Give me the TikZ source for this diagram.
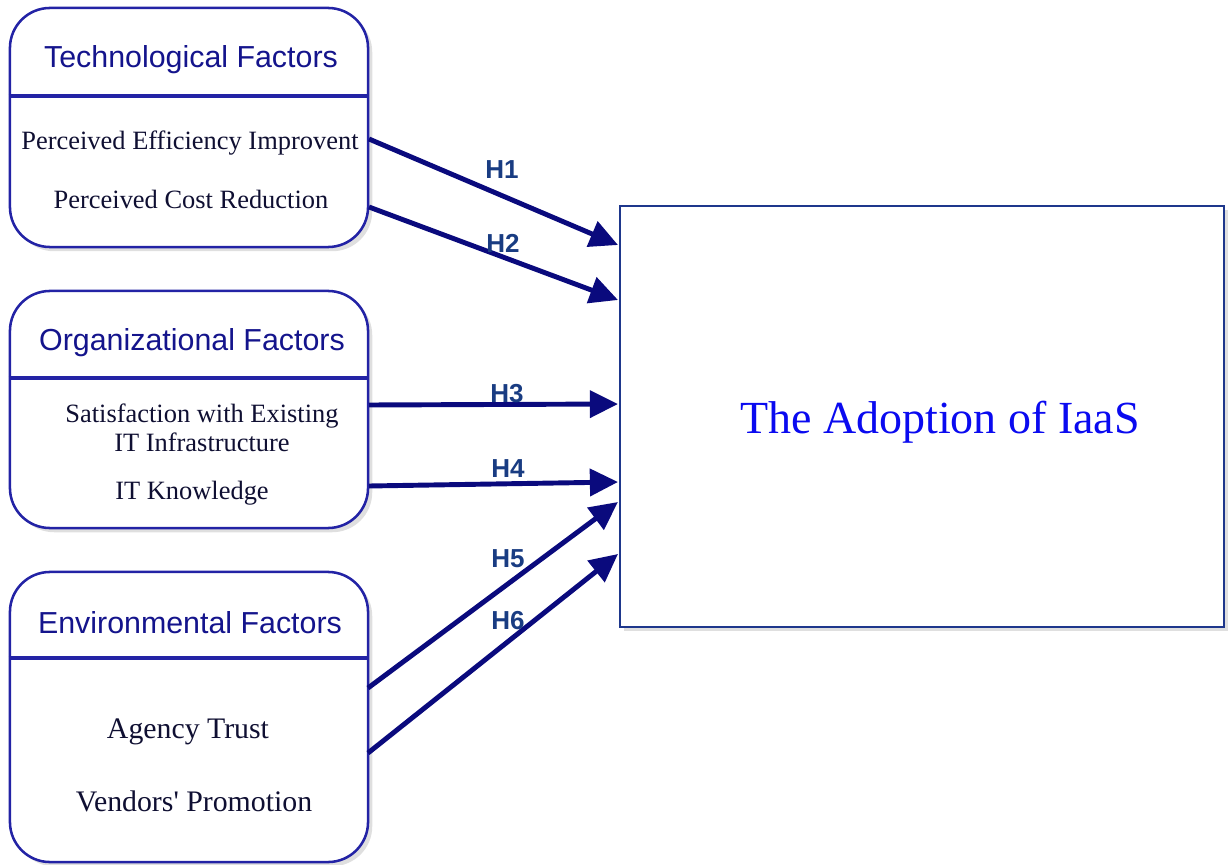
\documentclass[tikz,border=0pt]{standalone}
\usepackage{fontspec}
\setmainfont{Liberation Serif}
\newfontfamily\headfont{Liberation Sans}
\usetikzlibrary{arrows.meta,shadows}

\definecolor{framecol}{RGB}{35,35,165}
\definecolor{headcol}{RGB}{20,20,140}
\definecolor{arrowcol}{RGB}{10,10,125}
\definecolor{hypcol}{RGB}{25,60,130}
\definecolor{itemcol}{RGB}{15,15,50}
\definecolor{adoptcol}{RGB}{10,10,240}
\definecolor{adoptframe}{RGB}{30,55,140}

% straight apostrophe, kept out of the TeX ligature mapping
\newcommand{\straightquote}{\XeTeXglyph\XeTeXcharglyph"0027\relax}

\tikzset{
  factor/.style={draw=framecol, line width=1.8pt, rounded corners=1cm, fill=white,
    drop shadow={opacity=0.25, shadow xshift=3pt, shadow yshift=-3pt}},
  divider/.style={draw=framecol, line width=3.5pt},
  head/.style={font=\headfont\fontsize{21.6}{25}\selectfont, text=headcol},
  item/.style={font=\fontsize{18.8}{20.6}\selectfont, text=itemcol, align=center},
  bigitem/.style={item, font=\fontsize{21.2}{24}\selectfont},
  hyp/.style={draw=arrowcol, line width=3.5pt, -{Triangle[length=20pt,width=19pt]}},
  hlabel/.style={font=\headfont\bfseries\fontsize{18.5}{20}\selectfont, text=hypcol},
}

\begin{document}
\begin{tikzpicture}[x=0.025cm, y=-0.025cm]
	\useasboundingbox (0,0) rectangle (1228,865);

	% factor boxes
	\node[factor, minimum width=8.95cm, minimum height=5.975cm] (tech) at (189,127.5) {};
	\node[factor, minimum width=8.95cm, minimum height=5.925cm] (org) at (189,409.5) {};
	\node[factor, minimum width=8.95cm, minimum height=7.25cm] (env) at (189,717) {};

	\draw[divider] (tech.west |- 0,96) -- (tech.east |- 0,96);
	\draw[divider] (org.west |- 0,378) -- (org.east |- 0,378);
	\draw[divider] (env.west |- 0,658) -- (env.east |- 0,658);

	\node[head] (techhead) at (191,60) {Technological Factors};
	\node[head] (orghead) at (192,343) {Organizational Factors};
	\node[head] (envhead) at (190,623) {Environmental Factors};

	\node[item] (eff) at (190,143) {Perceived Efficiency Improvent};
	\node[item] (cost) at (191,199) {Perceived Cost Reduction};
	\node[item] (sat) at (202,428) {Satisfaction with Existing\\IT Infrastructure};
	\node[item] (know) at (192,493) {IT Knowledge};
	\node[bigitem] (trust) at (188,732) {Agency Trust};
	\node[bigitem] (promo) at (194,801) {Vendors\straightquote{} Promotion};

	% dependent variable
	\node[draw=adoptframe, line width=1.5pt, fill=white, minimum width=15.1cm, minimum height=10.525cm,
		drop shadow={opacity=0.25, shadow xshift=3pt, shadow yshift=-3pt}] (adopt) at (922,416.5) {};
	\node[font=\fontsize{32.7}{36}\selectfont, text=adoptcol] (adopttext) at (940,422) {The Adoption of IaaS};

	% hypotheses
	\coordinate (s1) at (369,139);
	\coordinate (s2) at (369,207);
	\coordinate (s3) at (369,405);
	\coordinate (s4) at (369,486);
	\coordinate (s5) at (368,688);
	\coordinate (s6) at (368,753);
	\coordinate (t1) at (618,245);
	\coordinate (t2) at (618,300);
	\coordinate (t3) at (618,404);
	\coordinate (t4) at (618,482);
	\coordinate (t5) at (618,502);
	\coordinate (t6) at (618,554);

	\draw[hyp] (s1) -- (t1);
	\draw[hyp] (s2) -- (t2);
	\draw[hyp] (s3) -- (t3);
	\draw[hyp] (s4) -- (t4);
	\draw[hyp] (s5) -- (t5);
	\draw[hyp] (s6) -- (t6);

	\node[hlabel] (h1) at (502,170) {H1};
	\node[hlabel] (h2) at (503,243) {H2};
	\node[hlabel] (h3) at (507,394) {H3};
	\node[hlabel] (h4) at (508,469) {H4};
	\node[hlabel] (h5) at (508,559) {H5};
	\node[hlabel] (h6) at (508,621) {H6};
\end{tikzpicture}
\end{document}
